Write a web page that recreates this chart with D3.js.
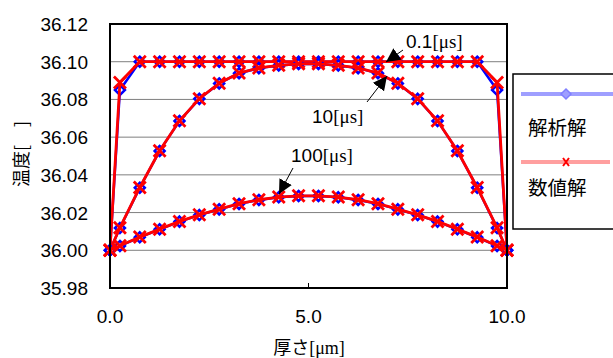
<!DOCTYPE html>
<html>
<head>
<meta charset="utf-8">
<script src="https://cdn.jsdelivr.net/npm/d3@7"></script>
<style>
  body { margin: 0; background: #fff; }
  text { font-family: "Liberation Sans", Arial, sans-serif; }
  .jp { font-family: "Noto Sans CJK JP", sans-serif; }
  .serif { font-family: "Liberation Serif", "Times New Roman", serif; }
</style>
</head>
<body>
<div id="chart"></div>
<script>
var width = 613,
    height = 358;

// thickness positions [µm]
var xs = [0, 0.25, 0.75, 1.25, 1.75, 2.25, 2.75, 3.25, 3.75, 4.25, 4.75,
          5.25, 5.75, 6.25, 6.75, 7.25, 7.75, 8.25, 8.75, 9.25, 9.75, 10];

// analytic (解析解) and numeric (数値解) temperatures
var ana01 = [36.000, 36.085, 36.100, 36.100, 36.100, 36.100, 36.100, 36.100, 36.100, 36.100, 36.100,
             36.100, 36.100, 36.100, 36.100, 36.100, 36.100, 36.100, 36.100, 36.100, 36.085, 36.000];
var num01 = [36.000, 36.089, 36.100, 36.100, 36.100, 36.100, 36.100, 36.100, 36.100, 36.100, 36.100,
             36.100, 36.100, 36.100, 36.100, 36.100, 36.100, 36.100, 36.100, 36.100, 36.089, 36.000];
var ana10 = [36.000, 36.0118, 36.0332, 36.0527, 36.0686, 36.0803, 36.0885, 36.0939, 36.0966, 36.0980, 36.0988,
             36.0988, 36.0980, 36.0966, 36.0939, 36.0885, 36.0803, 36.0686, 36.0527, 36.0332, 36.0118, 36.000];
var num10 = [36.000, 36.0120, 36.0333, 36.0528, 36.0687, 36.0804, 36.0886, 36.0940, 36.0967, 36.0981, 36.0989,
             36.0989, 36.0981, 36.0967, 36.0940, 36.0886, 36.0804, 36.0687, 36.0528, 36.0333, 36.0120, 36.000];
var ana100 = [36.000, 36.0023, 36.0069, 36.0111, 36.0152, 36.0187, 36.0217, 36.0246, 36.0267, 36.0281, 36.0288,
              36.0288, 36.0281, 36.0267, 36.0246, 36.0217, 36.0187, 36.0152, 36.0111, 36.0069, 36.0023, 36.000];
var num100 = [36.000, 36.0024, 36.0070, 36.0112, 36.0153, 36.0188, 36.0218, 36.0247, 36.0268, 36.0282, 36.0289,
              36.0289, 36.0282, 36.0268, 36.0247, 36.0218, 36.0188, 36.0153, 36.0112, 36.0070, 36.0024, 36.000];

var yTicks = [35.98, 36.00, 36.02, 36.04, 36.06, 36.08, 36.10, 36.12];
var xTicks = [0, 5, 10];

var x = d3.scaleLinear().domain([0, 10]).range([110, 507]),
    y = d3.scaleLinear().domain([35.98, 36.12]).range([288, 24]);

var svg = d3.select("#chart").append("svg")
    .attr("width", width)
    .attr("height", height);

// gridlines
svg.append("g").selectAll("line")
    .data(yTicks.slice(1, -1))
    .enter().append("line")
      .attr("x1", x(0)).attr("x2", x(10))
      .attr("y1", function(d) { return y(d); })
      .attr("y2", function(d) { return y(d); })
      .attr("stroke", "#7f7f7f")
      .attr("stroke-width", 1);

// y labels
svg.append("g").selectAll("text")
    .data(yTicks)
    .enter().append("text")
      .attr("x", 88)
      .attr("y", function(d) { return y(d) + 7; })
      .attr("text-anchor", "end")
      .attr("font-size", 19)
      .text(function(d) { return d.toFixed(2); });

// x labels
svg.append("g").selectAll("text")
    .data(xTicks)
    .enter().append("text")
      .attr("x", function(d) { return x(d); })
      .attr("y", 323)
      .attr("text-anchor", "middle")
      .attr("font-size", 19)
      .text(function(d) { return d.toFixed(1); });

// tick at 5.0
svg.append("line")
    .attr("x1", x(5)).attr("x2", x(5))
    .attr("y1", 288).attr("y2", 283)
    .attr("stroke", "#000");

var line = d3.line()
    .x(function(d, i) { return x(xs[i]); })
    .y(function(d) { return y(d); });

function diamond(g, vals) {
  g.selectAll(null)
    .data(vals)
    .enter().append("path")
      .attr("d", function(d, i) {
        var cx = x(xs[i]), cy = y(d), r = 5;
        return "M" + cx + "," + (cy - r) + "L" + (cx + r) + "," + cy +
               "L" + cx + "," + (cy + r) + "L" + (cx - r) + "," + cy + "Z";
      })
      .attr("fill", "#fff")
      .attr("stroke", "#0000ff")
      .attr("stroke-width", 2.5);
}

function cross(g, vals) {
  g.selectAll(null)
    .data(vals)
    .enter().append("path")
      .attr("d", function(d, i) {
        var cx = x(xs[i]), cy = y(d), r = 6;
        return "M" + (cx - r) + "," + (cy - r) + "L" + (cx + r) + "," + (cy + r) +
               "M" + (cx + r) + "," + (cy - r) + "L" + (cx - r) + "," + (cy + r);
      })
      .attr("fill", "none")
      .attr("stroke", "#ff0000")
      .attr("stroke-width", 2.8);
}

var anaSeries = [ana01, ana10, ana100],
    numSeries = [num01, num10, num100];

var marks = svg.append("g");
anaSeries.forEach(function(s, k) {
  marks.append("path")
    .attr("d", line(s))
    .attr("fill", "none")
    .attr("stroke", "#0000ff")
    .attr("stroke-width", 2.5);
  diamond(marks, s);
  marks.append("path")
    .attr("d", line(numSeries[k]))
    .attr("fill", "none")
    .attr("stroke", "#ff0000")
    .attr("stroke-width", 2.8);
  cross(marks, numSeries[k]);
});

// plot border
svg.append("rect")
    .attr("x", x(0)).attr("y", y(36.12))
    .attr("width", x(10) - x(0))
    .attr("height", y(35.98) - y(36.12))
    .attr("fill", "none")
    .attr("stroke", "#000")
    .attr("stroke-width", 2);

// annotations
svg.append("defs").append("marker")
    .attr("id", "ah")
    .attr("viewBox", "0 0 10 10")
    .attr("refX", 10).attr("refY", 5)
    .attr("markerWidth", 14).attr("markerHeight", 14)
    .attr("markerUnits", "userSpaceOnUse")
    .attr("orient", "auto")
  .append("path")
    .attr("d", "M0,0L10,5L0,10Z")
    .attr("fill", "#000");

var notes = [
  { label: "0.1", tx: 406, ty: 48, x1: 403, y1: 50, x2: 386, y2: 62 },
  { label: "10", tx: 312, ty: 123, x1: 367, y1: 102, x2: 387, y2: 76 },
  { label: "100", tx: 291, ty: 162, x1: 293, y1: 168, x2: 279, y2: 194 }
];

notes.forEach(function(n) {
  svg.append("line")
    .attr("x1", n.x1).attr("y1", n.y1)
    .attr("x2", n.x2).attr("y2", n.y2)
    .attr("stroke", "#000")
    .attr("stroke-width", 1)
    .attr("marker-end", "url(#ah)");
  var t = svg.append("text")
    .attr("x", n.tx).attr("y", n.ty)
    .attr("font-size", 19);
  t.append("tspan").text(n.label);
  t.append("tspan").attr("class", "serif").text("[μs]");
});

// axis titles
var yt = svg.append("text")
    .attr("transform", "translate(28,154) rotate(-90)")
    .attr("text-anchor", "middle")
    .attr("font-size", 18)
    .attr("class", "jp")
    .attr("xml:space", "preserve");
yt.text("温度[　]");

var xt = svg.append("text")
    .attr("x", 309).attr("y", 354)
    .attr("text-anchor", "middle")
    .attr("font-size", 18);
xt.append("tspan").attr("class", "jp").text("厚さ");
xt.append("tspan").attr("class", "serif").text("[μm]");

// legend
var lg = svg.append("g");
lg.append("rect")
    .attr("x", 513).attr("y", 74)
    .attr("width", 110).attr("height", 155)
    .attr("fill", "#fff")
    .attr("stroke", "#000")
    .attr("stroke-width", 1.5);
lg.append("line")
    .attr("x1", 521).attr("x2", 613).attr("y1", 94).attr("y2", 94)
    .attr("stroke", "#9f9fff").attr("stroke-width", 4);
lg.append("path")
    .attr("d", "M566,89L571,94L566,99L561,94Z")
    .attr("fill", "#9f9fff").attr("stroke", "#8080ff").attr("stroke-width", 1.5);
lg.append("text").attr("class", "jp")
    .attr("x", 528).attr("y", 135).attr("font-size", 19.5).text("解析解");
lg.append("line")
    .attr("x1", 521).attr("x2", 610).attr("y1", 162).attr("y2", 162)
    .attr("stroke", "#ff9f9f").attr("stroke-width", 4);
lg.append("path")
    .attr("d", "M563,158L569,166M569,158L563,166")
    .attr("stroke", "#ff0000").attr("stroke-width", 2);
lg.append("text").attr("class", "jp")
    .attr("x", 528).attr("y", 195).attr("font-size", 19.5).text("数値解");
</script>
</body>
</html>
